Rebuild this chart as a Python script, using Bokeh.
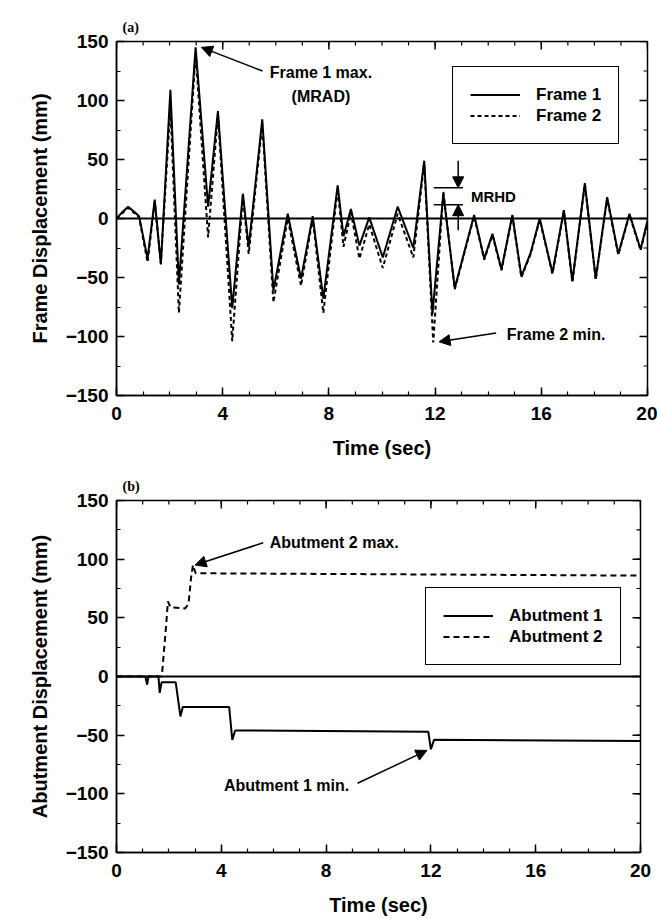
import math
from bokeh.plotting import figure
from bokeh.layouts import column
from bokeh.models import (Range1d, Span, Arrow, NormalHead, Label,
                          Legend, LegendItem, FixedTicker)
from bokeh.embed import file_html
from bokeh.resources import INLINE

# ---------------- data ----------------
# (a) frame displacement
frame1_t = [0, 0.2, 0.44, 0.7, 0.85, 1.17, 1.44, 1.67, 2.03, 2.35, 2.98, 3.45, 3.82, 4.36, 4.76, 4.98,
            5.49, 5.91, 6.45, 6.95, 7.39, 7.79, 8.33, 8.55, 8.83, 9.15, 9.52, 10.03, 10.59, 11.18,
            11.59, 11.9, 12.31, 12.74, 13.47, 13.85, 14.16, 14.5, 14.91, 15.25, 15.6, 15.94,
            16.42, 16.85, 17.17, 17.64, 18.05, 18.48, 18.9, 19.32, 19.74, 20]
frame1_d = [0, 5, 10, 5, 2, -34, 16, -39, 109, -56, 145, 10, 91, -76, 21, -24,
            84, -61, 4, -51, 2, -68, 28, -15, 8, -23, 1, -33, 10, -25,
            49, -81, 21, -59, 3, -34, -13, -43, 3, -49, -29, 0,
            -46, 7, -53, 30, -51, 18, -30, 4, -26, -2]
frame2_t = [0, 0.2, 0.44, 0.7, 0.85, 1.17, 1.44, 1.67, 2.03, 2.35, 2.98, 3.45, 3.82, 4.36, 4.76, 4.98,
            5.49, 5.91, 6.45, 6.95, 7.39, 7.79, 8.33, 8.55, 8.83, 9.15, 9.52, 10.03, 10.59, 11.18,
            11.59, 11.93, 12.31, 12.74, 13.47, 13.85, 14.16, 14.5, 14.91, 15.25, 15.6, 15.94,
            16.42, 16.85, 17.17, 17.64, 18.05, 18.48, 18.9, 19.32, 19.74, 20]
frame2_d = [0, 4, 9, 4, 1, -37, 14, -38, 94, -80, 140, -16, 88, -104, 19, -30,
            80, -71, 0, -57, 0, -80, 25, -24, 5, -34, -5, -42, 4, -33,
            47, -105, 23, -60, 2, -35, -14, -44, 2, -50, -30, -1,
            -47, 6, -54, 29, -52, 17, -31, 3, -27, -3]

# (b) abutment displacement
abut1_t = [0, 1.1, 1.17, 1.22, 1.6, 1.65, 1.72, 2.26, 2.44, 2.53, 4.3, 4.42, 4.53, 11.9, 12.0, 12.12, 20]
abut1_d = [0, 0, -7, 0, 0, -14, -5, -5, -34, -26, -26, -54, -46, -47, -62, -54, -55]
abut2_t = [0, 1.73, 1.9, 1.96, 2.06, 2.62, 2.75, 2.85, 2.92, 3.02, 20]
abut2_d = [0, 0, 45, 64, 59, 58, 62, 85, 95, 88, 86]

# axes / ticks
x_major = [0, 4, 8, 12, 16, 20]
x_minor = list(range(0, 21))
y_major = [-150, -100, -50, 0, 50, 100, 150]
y_minor = list(range(-150, 151, 25))

# annotation anchors (data units)
ann_a = {"max_text": (7.7, 124), "max_text2": (7.7, 103), "max_arrow": (5.5, 125, 3.2, 145),
         "min_text": (14.7, -98), "min_arrow": (14.3, -97, 12.15, -104.5),
         "mrhd_text": (13.35, 19), "mrhd_hi": 26, "mrhd_lo": 11.7, "mrhd_x": (11.95, 13.05),
         "mrhd_ax": 12.87, "mrhd_top": 49, "mrhd_bot": -10}
ann_b = {"max_text": (5.85, 114), "max_arrow": (5.6, 114, 3.0, 95),
         "min_text": (4.1, -93), "min_arrow": (9.2, -91, 11.85, -63)}

FONT = "Liberation Sans"


def make_fig(frame_w, frame_h, left, right, top, bottom, ylabel, tag):
    p = figure(frame_width=frame_w, frame_height=frame_h,
               min_border_left=left, min_border_right=right,
               min_border_top=top, min_border_bottom=bottom,
               x_range=Range1d(x_major[0], x_major[-1]),
               y_range=Range1d(y_major[0], y_major[-1]),
               output_backend="svg", toolbar_location=None,
               title=tag)
    p.title.text_font = "Liberation Serif"
    p.title.text_font_style = "bold"
    p.title.text_font_size = "14px"
    p.title.text_color = "black"
    p.title.offset = 6
    p.title.standoff = 14
    p.grid.visible = False
    p.outline_line_color = "black"
    p.outline_line_width = 1.5
    p.outline_line_alpha = 1
    p.background_fill_color = "white"
    p.border_fill_color = "white"
    p.xaxis.ticker = FixedTicker(ticks=x_major, minor_ticks=x_minor)
    p.yaxis.ticker = FixedTicker(ticks=y_major, minor_ticks=y_minor)
    for ax in p.axis:
        ax.axis_line_width = 1.5
        ax.axis_line_color = "black"
        ax.major_tick_line_width = 1.5
        ax.minor_tick_line_width = 1.2
        ax.major_tick_in = 8
        ax.major_tick_out = 0
        ax.minor_tick_in = 4
        ax.minor_tick_out = 0
        ax.major_label_text_font = FONT
        ax.major_label_text_font_style = "bold"
        ax.major_label_text_font_size = "19px"
        ax.major_label_text_color = "black"
        ax.axis_label_text_font = FONT
        ax.axis_label_text_font_style = "bold"
        ax.axis_label_text_font_size = "20px"
        ax.axis_label_text_color = "black"
    p.xaxis.axis_label = "Time (sec)"
    p.xaxis.major_label_standoff = 11
    p.xaxis.axis_label_standoff = 14
    p.yaxis.axis_label = ylabel
    p.yaxis.major_label_standoff = 8
    p.yaxis.axis_label_standoff = 12
    # inward ticks on the top and right frame edges (markers half clipped by the frame)
    p.scatter(x_major, [y_major[-1]] * len(x_major), marker="dash", angle=math.pi / 2, size=16,
              line_color="black", line_width=1.5)
    p.scatter(x_minor, [y_major[-1]] * len(x_minor), marker="dash", angle=math.pi / 2, size=8,
              line_color="black", line_width=1.2)
    p.scatter([x_major[-1]] * len(y_major), y_major, marker="dash", size=16,
              line_color="black", line_width=1.5)
    p.scatter([x_major[-1]] * len(y_minor), y_minor, marker="dash", size=8,
              line_color="black", line_width=1.2)
    p.add_layout(Span(location=0, dimension="width", line_color="black", line_width=2))
    return p


def text(p, x, y, s, size="16px", align="left", font=FONT):
    p.add_layout(Label(x=x, y=y, text=s, text_font=font, text_font_size=size,
                       text_font_style="bold", text_align=align, text_baseline="middle",
                       text_color="black"))


def arrow(p, x0, y0, x1, y1):
    p.add_layout(Arrow(end=NormalHead(size=11, fill_color="black", line_color="black"),
                       x_start=x0, y_start=y0, x_end=x1, y_end=y1,
                       line_color="black", line_width=1.5))


def legend(p, items, loc):
    lg = Legend(items=items, location=loc)
    lg.border_line_color = "black"
    lg.border_line_width = 1.5
    lg.border_line_alpha = 1
    lg.label_text_font = FONT
    lg.label_text_font_style = "bold"
    lg.label_text_font_size = "17px"
    lg.label_text_color = "black"
    lg.glyph_width = 50
    lg.glyph_height = 21
    lg.label_height = 21
    lg.label_standoff = 16
    lg.padding = 17
    lg.spacing = 0
    lg.margin = 0
    lg.background_fill_alpha = 1
    p.add_layout(lg)


# ---------------- panel (a) ----------------
p1 = make_fig(531, 354, 110, 16, 41, 70, "Frame Displacement (mm)", "(a)")
r1 = p1.line(frame1_t, frame1_d, line_color="black", line_width=2)
r2 = p1.line(frame2_t, frame2_d, line_color="black", line_width=2, line_dash="4 3")
legend(p1, [LegendItem(label="Frame 1", renderers=[r1]),
            LegendItem(label="Frame 2", renderers=[r2])], (336, 251))

text(p1, *ann_a["max_text"], "Frame 1 max.", align="center")
text(p1, *ann_a["max_text2"], "(MRAD)", align="center")
arrow(p1, *ann_a["max_arrow"])
text(p1, *ann_a["min_text"], "Frame 2 min.")
arrow(p1, *ann_a["min_arrow"])
text(p1, *ann_a["mrhd_text"], "MRHD", size="15px")
mx0, mx1 = ann_a["mrhd_x"]
p1.segment(x0=[mx0, mx0], y0=[ann_a["mrhd_hi"], ann_a["mrhd_lo"]],
           x1=[mx1, mx1], y1=[ann_a["mrhd_hi"], ann_a["mrhd_lo"]], line_color="black", line_width=1.5)
arrow(p1, ann_a["mrhd_ax"], ann_a["mrhd_top"], ann_a["mrhd_ax"], ann_a["mrhd_hi"])
arrow(p1, ann_a["mrhd_ax"], ann_a["mrhd_bot"], ann_a["mrhd_ax"], ann_a["mrhd_lo"])

# ---------------- panel (b) ----------------
p2 = make_fig(524, 352, 116, 17, 35, 67, "Abutment Displacement (mm)", "(b)")
s1 = p2.line(abut1_t, abut1_d, line_color="black", line_width=2)
s2 = p2.line(abut2_t, abut2_d, line_color="black", line_width=2, line_dash="6 4")
legend(p2, [LegendItem(label="Abutment 1", renderers=[s1]),
            LegendItem(label="Abutment 2", renderers=[s2])], (309, 187))

text(p2, *ann_b["max_text"], "Abutment 2 max.")
arrow(p2, *ann_b["max_arrow"])
text(p2, *ann_b["min_text"], "Abutment 1 min.")
arrow(p2, *ann_b["min_arrow"])

layout = column(p1, p2, spacing=0)
open("out.html", "w").write(file_html(layout, INLINE))
